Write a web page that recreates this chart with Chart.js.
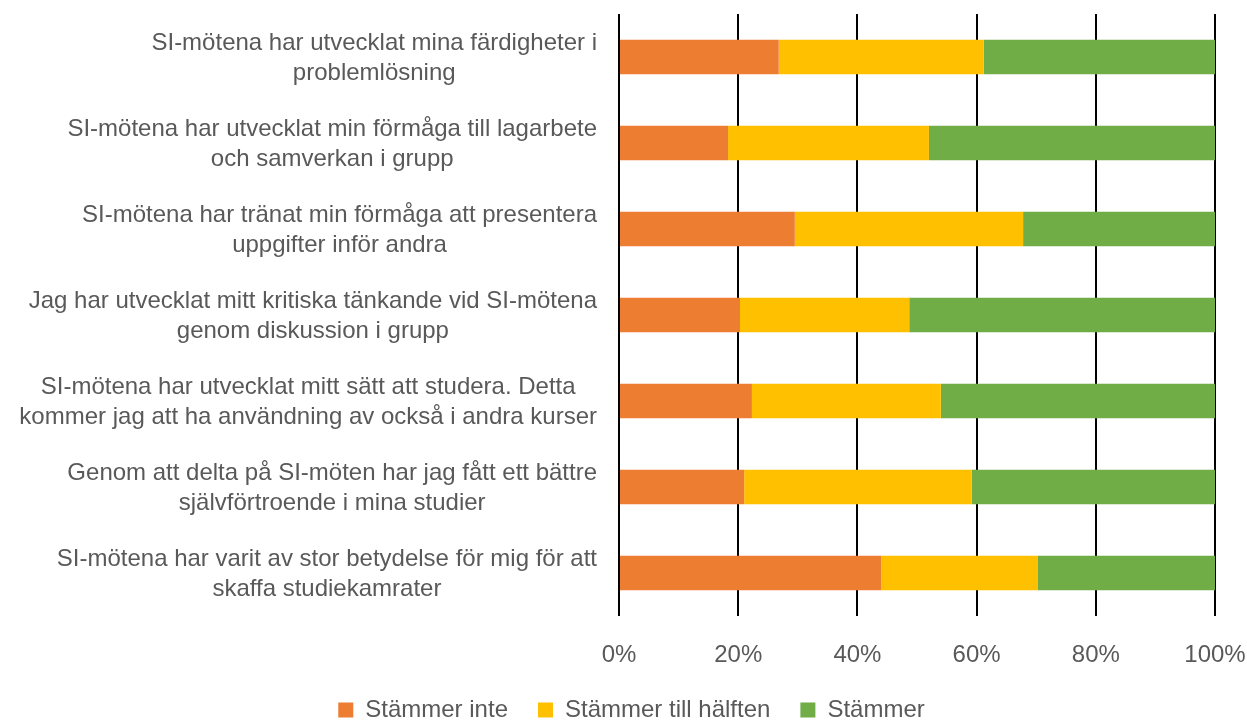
<!DOCTYPE html>
<html>
<head>
<meta charset="utf-8">
<script src="https://cdn.jsdelivr.net/npm/chart.js@4"></script>
<style>
    html, body { margin: 0; padding: 0; background: #fff; }
    #wrap { width: 1247px; height: 722px; }
</style>
</head>
<body>
<div id="wrap"><canvas id="surveyChart" width="1247" height="722"></canvas></div>
<script>
// statements, top to bottom
const categories = [
    ['SI-mötena har utvecklat mina färdigheter i', 'problemlösning'],
    ['SI-mötena har utvecklat min förmåga till lagarbete', 'och samverkan i grupp'],
    ['SI-mötena har tränat min förmåga att presentera', 'uppgifter inför andra'],
    ['Jag har utvecklat mitt kritiska tänkande vid SI-mötena', 'genom diskussion i grupp'],
    ['SI-mötena har utvecklat mitt sätt att studera. Detta', 'kommer jag att ha användning av också i andra kurser'],
    ['Genom att delta på SI-möten har jag fått ett bättre', 'självförtroende i mina studier'],
    ['SI-mötena har varit av stor betydelse för mig för att', 'skaffa studiekamrater']
];

// shares in percent
const stammerInte = [26.8, 18.3, 29.5, 20.3, 22.3, 21.0, 44.0];
const stammerHalften = [34.4, 33.7, 38.3, 28.4, 31.7, 38.2, 26.3];
const stammer = [38.8, 48.0, 32.2, 51.3, 46.0, 40.8, 29.7];

const xTicks = [0, 20, 40, 60, 80, 100];

const fontFamily = '"Liberation Sans", Arial, sans-serif';
const textColor = '#595959';

// Excel style category labels: block right aligned, lines centred in the block
const categoryLabels = {
    id: 'categoryLabels',
    afterDraw(chart) {
        const ctx = chart.ctx;
        const yScale = chart.scales.y;
        const rightEdge = chart.chartArea.left - 22;
        const lineGap = 30;
        ctx.save();
        ctx.font = '24px ' + fontFamily;
        ctx.fillStyle = textColor;
        ctx.textAlign = 'center';
        ctx.textBaseline = 'middle';
        categories.forEach((lines, i) => {
            const yMid = yScale.getPixelForTick(i) + 1;
            const blockWidth = Math.max(...lines.map(l => ctx.measureText(l).width));
            const xMid = rightEdge - blockWidth / 2;
            const startY = yMid - (lines.length - 1) * lineGap / 2;
            lines.forEach((line, j) => {
                ctx.fillText(line, xMid, startY + j * lineGap);
            });
        });
        ctx.restore();
    }
};

const ctx = document.getElementById('surveyChart').getContext('2d');
const surveyChart = new Chart(ctx, {
    type: 'bar',
    data: {
        labels: categories,
        datasets: [
            {
                label: 'Stämmer inte',
                data: stammerInte,
                backgroundColor: '#ED7D31'
            },
            {
                label: 'Stämmer till hälften',
                data: stammerHalften,
                backgroundColor: '#FFC000'
            },
            {
                label: 'Stämmer',
                data: stammer,
                backgroundColor: '#70AD47'
            }
        ]
    },
    options: {
        indexAxis: 'y',
        responsive: false,
        animation: false,
        barPercentage: 0.4,
        categoryPercentage: 1,
        layout: {
            padding: { top: 14, right: 0, left: 16, bottom: -10 }
        },
        scales: {
            x: {
                stacked: true,
                min: 0,
                max: 100,
                afterBuildTicks: (scale) => {
                    scale.ticks = xTicks.map(v => ({ value: v }));
                },
                afterFit: (scale) => {
                    scale.height = 52;
                    scale.paddingLeft = 0;
                    scale.paddingRight = 32;
                },
                grid: {
                    color: '#000',
                    lineWidth: 2,
                    drawTicks: false
                },
                border: { display: false },
                ticks: {
                    padding: 25,
                    color: textColor,
                    font: { family: fontFamily, size: 24 },
                    callback: (value) => value + '%'
                }
            },
            y: {
                stacked: true,
                afterFit: (scale) => {
                    scale.width = 603; // room for the wrapped labels
                },
                grid: { display: false },
                border: { display: false },
                ticks: { display: false }
            }
        },
        plugins: {
            legend: {
                position: 'bottom',
                labels: {
                    boxWidth: 15,
                    boxHeight: 15,
                    padding: 30,
                    color: textColor,
                    font: { family: fontFamily, size: 24 }
                }
            },
            tooltip: { enabled: false }
        }
    },
    plugins: [categoryLabels]
});
</script>
</body>
</html>
